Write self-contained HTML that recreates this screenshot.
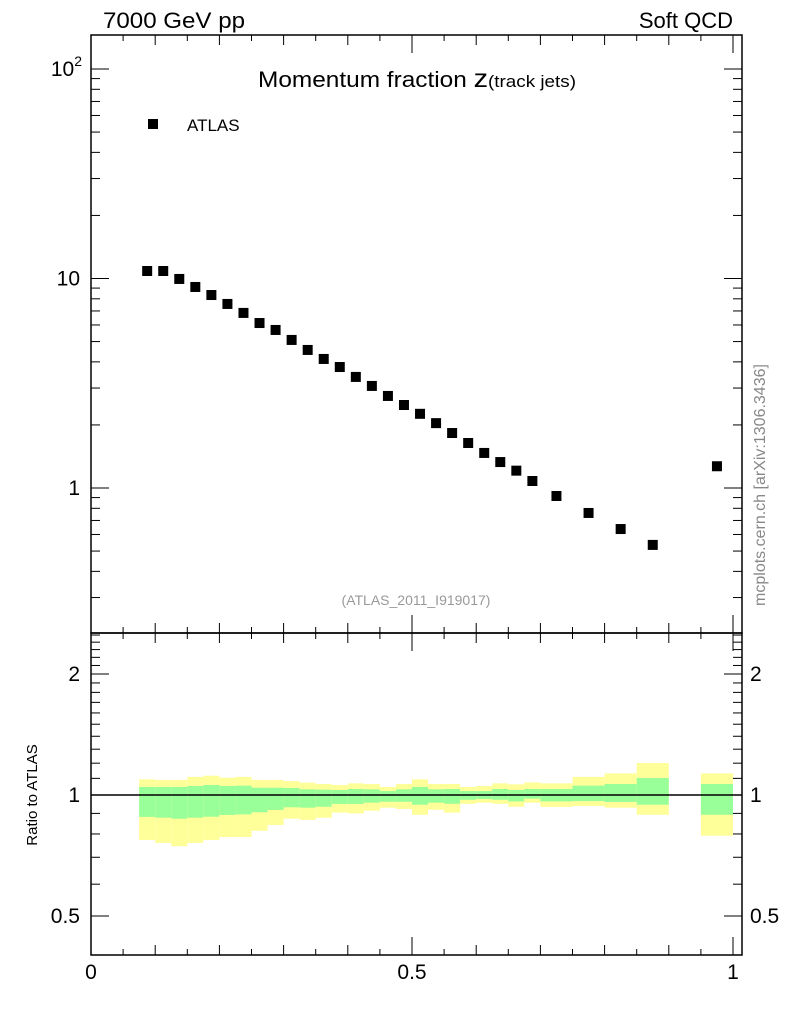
<!DOCTYPE html>
<html><head><meta charset="utf-8">
<style>
html,body{margin:0;padding:0;background:#fff;}
svg{display:block;font-family:"Liberation Sans",sans-serif;}
</style></head>
<body>
<svg id="chart" width="786" height="1024" viewBox="0 0 786 1024" xmlns="http://www.w3.org/2000/svg">
<text x="103" y="28" font-size="22" textLength="142" lengthAdjust="spacingAndGlyphs">7000 GeV pp</text>
<text x="733" y="28" font-size="22" text-anchor="end">Soft QCD</text>
<text x="258" y="87" font-size="22" textLength="318" lengthAdjust="spacingAndGlyphs">Momentum fraction <tspan font-size="26">z</tspan><tspan font-size="17">(track jets)</tspan></text>
<rect x="148" y="119" width="10" height="10" fill="#000"/>
<text x="187" y="131" font-size="17">ATLAS</text>
<text x="416" y="605" font-size="14" fill="#999" text-anchor="middle">(ATLAS_2011_I919017)</text>
<text transform="translate(765,485) rotate(-90)" font-size="16" fill="#888" text-anchor="middle">mcplots.cern.ch [arXiv:1306.3436]</text>
<text transform="translate(37,795) rotate(-90)" font-size="15" text-anchor="middle">Ratio to ATLAS</text>
<g id="bands"></g>
<g id="marks"></g>
<g id="axes"></g>
</svg>
<script>
const binLo=[0.075,0.1,0.125,0.15,0.175,0.2,0.225,0.25,0.275,0.3,0.325,0.35,0.375,0.4,0.425,0.45,0.475,0.5,0.525,0.55,0.575,0.6,0.625,0.65,0.675,0.7,0.75,0.8,0.85,0.95];
const binHi=[0.1,0.125,0.15,0.175,0.2,0.225,0.25,0.275,0.3,0.325,0.35,0.375,0.4,0.425,0.45,0.475,0.5,0.525,0.55,0.575,0.6,0.625,0.65,0.675,0.7,0.75,0.8,0.85,0.9,1.0];
const atlasValues=[10.86,10.86,9.95,9.11,8.34,7.56,6.85,6.13,5.68,5.09,4.56,4.13,3.78,3.39,3.07,2.75,2.49,2.26,2.04,1.83,1.64,1.47,1.33,1.21,1.08,0.916,0.76,0.637,0.535,1.27];
const yellowHi=[1.094,1.090,1.090,1.109,1.117,1.104,1.109,1.090,1.090,1.083,1.073,1.065,1.059,1.069,1.065,1.047,1.065,1.094,1.065,1.065,1.047,1.053,1.069,1.063,1.075,1.069,1.109,1.132,1.201,1.132];
const greenHi=[1.047,1.047,1.047,1.053,1.059,1.053,1.055,1.043,1.043,1.041,1.033,1.031,1.029,1.035,1.033,1.023,1.033,1.047,1.033,1.035,1.023,1.023,1.035,1.029,1.035,1.035,1.055,1.065,1.102,1.065];
const greenLo=[0.882,0.878,0.873,0.878,0.883,0.892,0.895,0.906,0.918,0.932,0.930,0.935,0.950,0.950,0.957,0.962,0.962,0.946,0.957,0.951,0.973,0.977,0.973,0.964,0.979,0.964,0.966,0.961,0.946,0.893];
const yellowLo=[0.773,0.760,0.746,0.760,0.773,0.786,0.786,0.815,0.842,0.873,0.867,0.878,0.904,0.900,0.914,0.930,0.923,0.893,0.919,0.904,0.951,0.957,0.951,0.935,0.957,0.934,0.939,0.930,0.893,0.792];
const mainYTicks=[1,10,100];
const ratioYTicks=[0.5,1,2];
const xTickLabels=["0","0.5","1"];
const xTickVals=[0,0.5,1];

const NS="http://www.w3.org/2000/svg";
const L=91,R=742,T=35,MID=633,B=955;
const xs=v=>91+642*v;
const ym=v=>488-209.5*Math.log10(v);
const yr=v=>795-402*Math.log10(v);
function mk(tag,attrs,parent){const e=document.createElementNS(NS,tag);for(const k in attrs)e.setAttribute(k,attrs[k]);parent.appendChild(e);return e;}
const bands=document.getElementById('bands'),marks=document.getElementById('marks'),axes=document.getElementById('axes');

binLo.forEach((lo,i)=>{
  const x0=xs(lo),w=xs(binHi[i])-x0;
  const y1=mk('rect',{x:x0,y:yr(yellowHi[i]),width:w,height:yr(yellowLo[i])-yr(yellowHi[i]),fill:'#ffff99'},bands);
  
  
  const g1=mk('rect',{x:x0,y:yr(greenHi[i]),width:w,height:yr(greenLo[i])-yr(greenHi[i]),fill:'#99ff99'},bands);
  
  
  const cx=xs((lo+binHi[i])/2),cy=ym(atlasValues[i]);
  const p=mk('rect',{x:cx-5,y:cy-5,width:10,height:10,fill:'#000'},marks);
  
  
});

mk('line',{x1:L,x2:R,y1:yr(1),y2:yr(1),stroke:'#000','stroke-width':1.5},axes);
mk('rect',{x:L,y:T,width:R-L,height:MID-T,fill:'none',stroke:'#000','stroke-width':1.5},axes);
mk('rect',{x:L,y:MID,width:R-L,height:B-MID,fill:'none',stroke:'#000','stroke-width':1.5},axes);

function hline(y,len){mk('line',{x1:L,x2:L+len,y1:y,y2:y,stroke:'#000'},axes);mk('line',{x1:R-len,x2:R,y1:y,y2:y,stroke:'#000'},axes);}
for(let d=-1;d<=2;d++){for(let m=1;m<10;m++){const v=m*Math.pow(10,d);const y=ym(v);if(y<T||y>MID)continue;hline(y,m===1?18:9);}}
mainYTicks.forEach(v=>{
  const y=ym(v);
  if(v===100){const t=mk('text',{x:82,y:y+7,'font-size':21,'text-anchor':'end'},axes);t.innerHTML='10<tspan font-size="14" dy="-10">2</tspan>';}
  else{const t=mk('text',{x:80,y:y+7,'font-size':21,'text-anchor':'end'},axes);t.textContent=String(v);}
});
for(let v=0.4;v<2.55;v+=0.1){const y=yr(v);if(y<MID||y>B)continue;const maj=ratioYTicks.some(t=>Math.abs(t-v)<1e-6);hline(y,maj?18:9);}
ratioYTicks.forEach(v=>{
  const y=yr(v);
  const t=mk('text',{x:80,y:y+7,'font-size':21,'text-anchor':'end'},axes);t.textContent=String(v);
  
  
  const t2=mk('text',{x:750,y:y+7,'font-size':21},axes);t2.textContent=String(v);
  
  
});
for(let k=0;k<=20;k++){const v=k*0.05,x=xs(v);const maj=(k%10===0);const len=maj?18:(k%2===0?10:6);
  [T,MID].forEach(y0=>mk('line',{x1:x,x2:x,y1:y0,y2:y0+len,stroke:'#000'},axes));
  [MID,B].forEach(y0=>mk('line',{x1:x,x2:x,y1:y0,y2:y0-len,stroke:'#000'},axes));}
xTickVals.forEach((v,i)=>{const t=mk('text',{x:xs(v),y:979,'font-size':21,'text-anchor':'middle'},axes);t.textContent=xTickLabels[i];
  
  });
</script>
</body></html>
